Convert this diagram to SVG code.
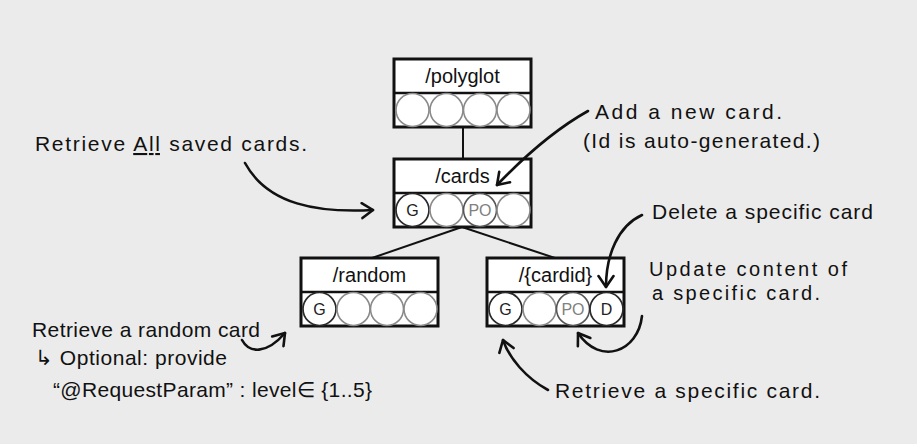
<svg xmlns="http://www.w3.org/2000/svg" width="917" height="444" viewBox="0 0 917 444">
<style>
.bg{fill:#ebebeb}
.box{fill:#fff;stroke:#111;stroke-width:3}
.div{stroke:#111;stroke-width:2.5}
.ttl{font-family:"Liberation Sans",Arial,sans-serif;font-size:20px;fill:#111;text-anchor:middle}
.c{fill:#fff;stroke:#8a8a8a;stroke-width:1.6}
.cd{fill:#fff;stroke:#2a2a2a;stroke-width:1.7}
.cm{fill:#fff;stroke:#555;stroke-width:1.6}
.lb{font-family:"Liberation Sans",Arial,sans-serif;font-size:16px;text-anchor:middle;fill:#222}
.lg{font-family:"Liberation Sans",Arial,sans-serif;font-size:16px;text-anchor:middle;fill:#808080}
.hw{font-family:"Liberation Sans",Arial,sans-serif;font-size:21px;fill:#111}
.hs{font-family:"Liberation Sans",Arial,sans-serif;font-size:20px;fill:#111}
.conn{stroke:#111;stroke-width:2;fill:none}
.arr{stroke:#111;stroke-width:2.6;fill:none;stroke-linecap:round}
</style>
<defs>
<marker id="ah" markerUnits="userSpaceOnUse" markerWidth="18" markerHeight="18" viewBox="0 0 18 18" refX="15" refY="9" orient="auto">
<path d="M4,1.5 L15,9 L4,16.5" fill="none" stroke="#111" stroke-width="2.6" stroke-linecap="round" stroke-linejoin="round"/>
</marker>
</defs>
<rect class="bg" x="0" y="0" width="917" height="444"/>

<g id="connectors">
<line class="conn" x1="463" y1="127" x2="463" y2="159"/>
<line class="conn" x1="462" y1="227" x2="372" y2="258"/>
<line class="conn" x1="462" y1="227" x2="555" y2="258"/>
</g>

<g id="polyglot">
<rect class="box" x="394" y="59" width="137" height="68"/>
<line class="div" x1="394" y1="93" x2="531" y2="93"/>
<text class="ttl" x="462.5" y="83">/polyglot</text>
<circle class="c" cx="412.5" cy="110" r="16.5"/>
<circle class="c" cx="446.5" cy="110" r="16.5"/>
<circle class="c" cx="480" cy="110" r="16.5"/>
<circle class="c" cx="513.5" cy="110" r="16.5"/>
</g>

<g id="cards">
<rect class="box" x="394" y="159" width="137" height="68"/>
<line class="div" x1="394" y1="193" x2="531" y2="193"/>
<text class="ttl" x="462.5" y="183">/cards</text>
<circle class="cd" cx="412.5" cy="210" r="16.5"/>
<text class="lb" x="412.5" y="216">G</text>
<circle class="c" cx="446.5" cy="210" r="16.5"/>
<circle class="cm" cx="480" cy="210" r="16.5"/>
<text class="lg" x="480" y="216">PO</text>
<circle class="c" cx="513.5" cy="210" r="16.5"/>
</g>

<g id="random">
<rect class="box" x="301" y="258" width="137" height="68"/>
<line class="div" x1="301" y1="292" x2="438" y2="292"/>
<text class="ttl" x="369.5" y="282">/random</text>
<circle class="cd" cx="319.5" cy="309" r="16.5"/>
<text class="lb" x="319.5" y="315">G</text>
<circle class="c" cx="353.5" cy="309" r="16.5"/>
<circle class="c" cx="387" cy="309" r="16.5"/>
<circle class="c" cx="420.5" cy="309" r="16.5"/>
</g>

<g id="cardid">
<rect class="box" x="487" y="258" width="137" height="68"/>
<line class="div" x1="487" y1="292" x2="624" y2="292"/>
<text class="ttl" x="555.5" y="282">/{cardid}</text>
<circle class="cd" cx="505.5" cy="309" r="16.5"/>
<text class="lb" x="505.5" y="315">G</text>
<circle class="c" cx="539.5" cy="309" r="16.5"/>
<circle class="cm" cx="573" cy="309" r="16.5"/>
<text class="lg" x="573" y="315">PO</text>
<circle class="cd" cx="606.5" cy="309" r="16.5"/>
<text class="lb" x="606.5" y="315">D</text>
</g>

<g id="notes">
<text class="hw" x="35" y="151" textLength="272" lengthAdjust="spacing">Retrieve <tspan text-decoration="underline">All</tspan> saved cards.</text>
<path class="arr" d="M245,163 C268,205 318,213 373,210" marker-end="url(#ah)"/>

<text class="hw" x="595" y="119" textLength="187" lengthAdjust="spacing">Add a new card.</text>
<text class="hw" x="583" y="148" textLength="237" lengthAdjust="spacing">(Id is auto-generated.)</text>
<path class="arr" d="M588,111 Q545,135 497,185" marker-end="url(#ah)"/>

<text class="hw" x="652" y="219" textLength="221" lengthAdjust="spacing">Delete a specific card</text>
<path class="arr" d="M642,215 C618,226 606,255 606,287" marker-end="url(#ah)"/>

<text class="hs" x="649" y="276" textLength="198" lengthAdjust="spacing">Update content of</text>
<text class="hs" x="652" y="300" textLength="168" lengthAdjust="spacing">a specific card.</text>
<path class="arr" d="M642,316 C638,352 600,366 578,333" marker-end="url(#ah)"/>

<text class="hw" x="555" y="398" textLength="265" lengthAdjust="spacing">Retrieve a specific card.</text>
<path class="arr" d="M548,390 C526,378 509,358 503,340" marker-end="url(#ah)"/>

<text class="hw" x="32" y="337" textLength="228" lengthAdjust="spacing">Retrieve a random card</text>
<path class="arr" d="M242,340 C249,353 266,355 285,333" marker-end="url(#ah)"/>
<text class="hw" x="35" y="365" textLength="192" lengthAdjust="spacing">↳ Optional: provide</text>
<text class="hw" x="53" y="397" textLength="319" lengthAdjust="spacing">“@RequestParam” : level∈ {1..5}</text>
</g>
</svg>
